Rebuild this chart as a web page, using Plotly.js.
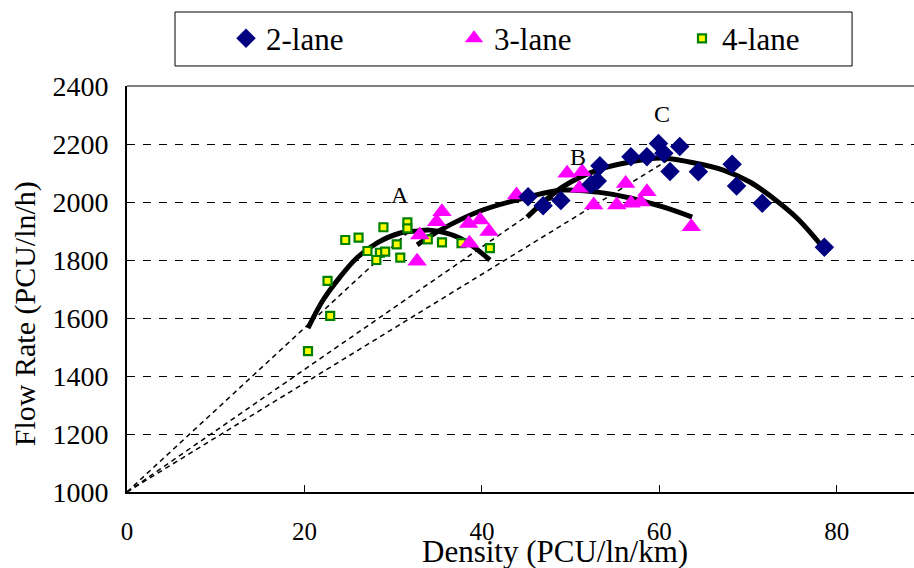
<!DOCTYPE html>
<html>
<head>
<meta charset="utf-8">
<script src="https://cdn.plot.ly/plotly-3.0.1.min.js"></script>
<style>html,body{margin:0;padding:0;background:#fff;}#chart{width:914px;height:568px;}</style>
</head>
<body>
<div id="chart"></div>
<script>
// ---- data ----
const lane2X = [45.2, 46.9, 48.9, 52.3, 53.0, 53.3, 56.8, 58.6, 59.9, 60.5, 62.3, 61.2, 64.4, 68.2, 68.7, 71.6, 78.6];
const lane2Y = [2018, 1987, 2005, 2060, 2072, 2125, 2156, 2156, 2202, 2168, 2191, 2105, 2104, 2130, 2055, 1996, 1844];

const lane3X = [32.7, 33.0, 34.9, 35.5, 38.5, 38.6, 39.8, 40.8, 43.9, 49.6, 51.3, 51.0, 52.6, 55.2, 56.2, 56.8, 57.9, 58.6, 63.6];
const lane3Y = [1796, 1886, 1932, 1966, 1926, 1858, 1938, 1898, 2024, 2099, 2104, 2047, 1990, 1990, 2064, 1996, 2000, 2035, 1915];

const lane4X = [20.4, 22.9, 22.6, 24.6, 26.1, 28.9, 31.6, 31.6, 27.1, 28.5, 29.1, 28.1, 30.4, 30.8, 33.9, 35.5, 37.7, 40.9];
const lane4Y = [1486, 1607, 1728, 1869, 1877, 1913, 1930, 1909, 1831, 1825, 1829, 1800, 1854, 1808, 1871, 1861, 1858, 1841];

// fitted curves
const fit4X = [20.4, 22.1, 24.0, 25.9, 28.2, 30.8, 32.8, 34.1, 37.5, 40.9];
const fit4Y = [1565, 1662, 1741, 1807, 1859, 1893, 1900, 1903, 1876, 1800];
const fit3X = [32.7, 35.3, 39.8, 44.3, 49.1, 53.0, 56.7, 60.4, 63.7];
const fit3Y = [1852, 1903, 1969, 2010, 2041, 2034, 2014, 1983, 1948];
const fit2X = [45.1, 49.1, 53.0, 56.7, 60.1, 63.4, 67.2, 70.2, 72.8, 75.5, 78.4];
const fit2Y = [1948, 2052, 2110, 2138, 2152, 2138, 2110, 2069, 2014, 1945, 1845];

// capacity points A, B, C and the common origin of the dashed rays
const originX = 0, originY = 1000;
const peakLabels = ['A', 'B', 'C'];
const peakX = [32, 49, 61];
const peakY = [1905, 2035, 2145];

const xTicks = [0, 20, 40, 60, 80];
const yTicks = [1000, 1200, 1400, 1600, 1800, 2000, 2200, 2400];

const seriesNames = ['2-lane', '3-lane', '4-lane'];
const xTitle = 'Density (PCU/ln/km)';
const yTitle = 'Flow Rate (PCU/ln/h)';

// ---- traces ----
const FONT = 'Liberation Serif';
const traces = [];

// dashed rays
peakX.forEach((px, i) => {
  traces.push({
    x: [originX, px], y: [originY, peakY[i]],
    mode: 'lines', type: 'scatter', showlegend: false, hoverinfo: 'skip',
    line: {color: '#000', width: 1.5, dash: '5px,4px'}
  });
});

// fitted curves
[[fit4X, fit4Y], [fit3X, fit3Y], [fit2X, fit2Y]].forEach(([fx, fy]) => {
  traces.push({
    x: fx, y: fy, mode: 'lines', type: 'scatter', showlegend: false, hoverinfo: 'skip',
    line: {color: '#000', width: 5, shape: 'spline', smoothing: 1}
  });
});

traces.push({
  x: lane4X, y: lane4Y, name: seriesNames[2], mode: 'markers', type: 'scatter',
  marker: {symbol: 'square', size: 8, color: '#FFFF00', line: {color: '#008000', width: 2.2}}
});
traces.push({
  x: lane3X, y: lane3Y, name: seriesNames[1], mode: 'markers', type: 'scatter',
  marker: {symbol: 'triangle-up', size: 17, color: '#FF00FF', line: {width: 0}}
});
traces.push({
  x: lane2X, y: lane2Y, name: seriesNames[0], mode: 'markers', type: 'scatter',
  marker: {symbol: 'diamond', size: 15, color: '#000080', line: {width: 0}}
});

// label offsets (styling)
const labelShift = [[-11, 35], [16, 35], [-6, 46]];
const annotations = peakLabels.map((t, i) => ({
  x: peakX[i], y: peakY[i], text: t, showarrow: false,
  xshift: labelShift[i][0], yshift: labelShift[i][1],
  font: {family: FONT, size: 24, color: '#000'}
}));
annotations.push({
  xref: 'paper', yref: 'paper', x: 0.544, y: 0, yshift: -59, yanchor: 'middle',
  text: xTitle, showarrow: false,
  font: {family: FONT, size: 31, color: '#000'}
});
annotations.push({
  xref: 'paper', yref: 'paper', x: 0, xshift: -102, y: 0.438, textangle: -90,
  xanchor: 'center', yanchor: 'middle',
  text: yTitle, showarrow: false,
  font: {family: FONT, size: 30, color: '#000'}
});

const layout = {
  width: 914, height: 568,
  margin: {l: 127, r: 0, t: 86, b: 76},
  paper_bgcolor: '#fff', plot_bgcolor: '#fff',
  font: {family: FONT, size: 24, color: '#000'},
  showlegend: true,
  legend: {
    orientation: 'h', x: 0.1258, y: 1.05, xanchor: 'left', yanchor: 'bottom',
    yref: 'paper', xref: 'paper',
    entrywidth: 183, entrywidthmode: 'pixels',
    traceorder: 'reversed',
    borderwidth: 0, bgcolor: 'rgba(0,0,0,0)',
    font: {family: FONT, size: 31, color: '#000'}
  },
  xaxis: {
    range: [0, 88.7], tickvals: xTicks, ticktext: xTicks.map(String),
    showgrid: false, zeroline: false,
    showline: true, linecolor: '#000', linewidth: 2,
    ticks: 'inside', ticklen: 7, tickcolor: '#000', tickwidth: 1,
    ticklabelstandoff: 16,
    tickfont: {family: FONT, size: 25, color: '#000'}
  },
  yaxis: {
    range: [1000, 2400], tickvals: yTicks, ticktext: yTicks.map(String),
    showgrid: true, gridcolor: '#000', gridwidth: 1, griddash: '8px,8px',
    zeroline: false, showline: true, linecolor: '#000', linewidth: 2,
    ticks: '', ticklabelstandoff: 11,
    tickfont: {family: FONT, size: 28, color: '#000'}
  },
  shapes: [{
    type: 'line', xref: 'paper', yref: 'paper', x0: 0, x1: 1, y0: 1, y1: 1,
    line: {color: '#808080', width: 2}, layer: 'above'
  }, {
    type: 'rect', xref: 'paper', yref: 'paper', x0: 0.061, x1: 0.9213, y0: 1.0493, y1: 1.1823,
    line: {color: '#000', width: 1}, fillcolor: 'rgba(0,0,0,0)', layer: 'above'
  }],
  annotations: annotations
};

Plotly.newPlot('chart', traces, layout, {staticPlot: true, displayModeBar: false});
</script>
</body>
</html>
